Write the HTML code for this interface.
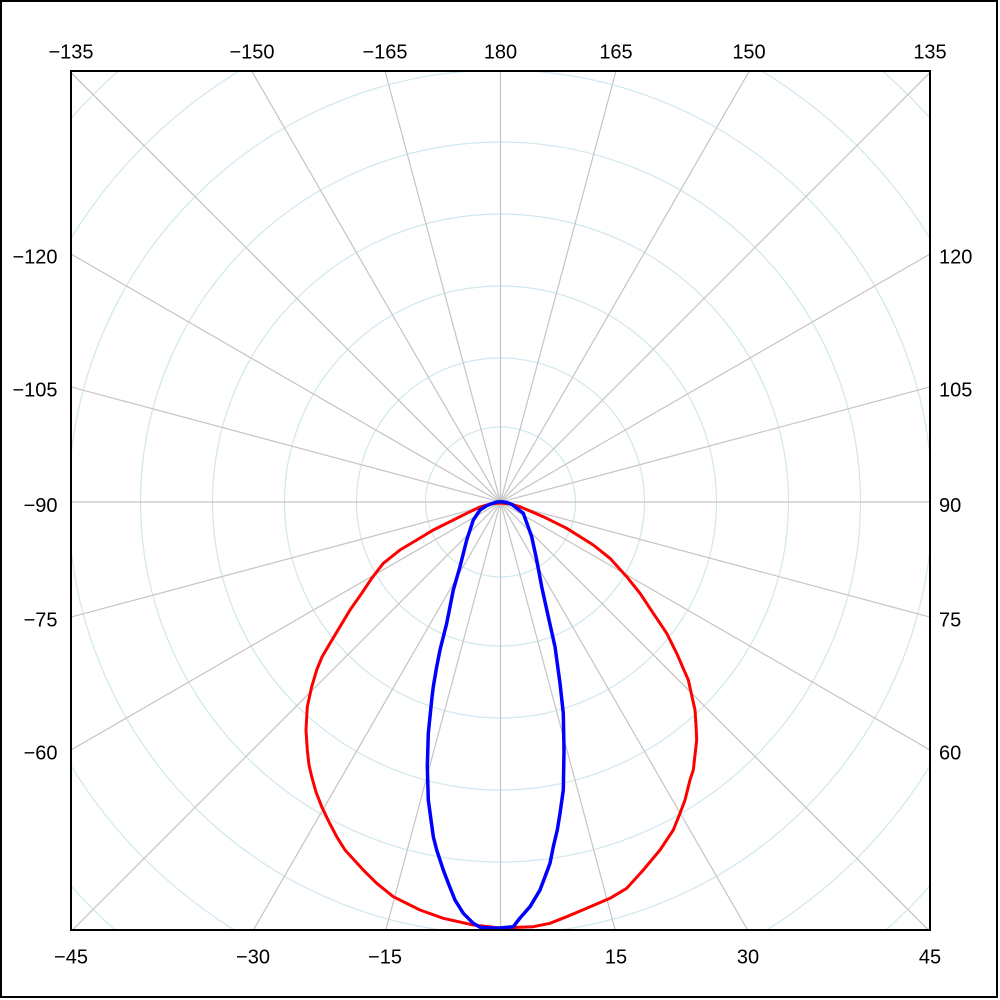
<!DOCTYPE html>
<html>
<head>
<meta charset="utf-8">
<style>
html,body{margin:0;padding:0;background:#fff;width:1000px;height:1000px;overflow:hidden;}
svg{display:block;}
text{font-family:"Liberation Sans",Arial,sans-serif;font-size:20px;fill:#000;}
</style>
</head>
<body>
<svg width="1000" height="1000" viewBox="0 0 1000 1000" xmlns="http://www.w3.org/2000/svg">
<defs>
<clipPath id="plot"><rect x="72" y="72" width="857" height="857"/></clipPath>
</defs>
<rect x="0" y="0" width="1000" height="1000" fill="#fff"/>
<rect x="1" y="1" width="996" height="996" fill="none" stroke="#000" stroke-width="2"/>

<g clip-path="url(#plot)" fill="none">
  <g stroke="#d0e7ef" stroke-width="1.2">
    <circle cx="500.5" cy="502" r="75"/>
    <circle cx="500.5" cy="502" r="144"/>
    <circle cx="500.5" cy="502" r="216"/>
    <circle cx="500.5" cy="502" r="288"/>
    <circle cx="500.5" cy="502" r="360"/>
    <circle cx="500.5" cy="502" r="432"/>
    <path d="M71,238.28 A504,504 0 0 1 239.24,71 M761.76,71 A504,504 0 0 1 930,238.28 M930,765.72 A504,504 0 0 1 766.64,930 M234.36,930 A504,504 0 0 1 71,765.72"/>
    <path d="M71,118.19 A576,576 0 0 1 118.38,71 M882.62,71 A576,576 0 0 1 930,118.19 M930,885.81 A576,576 0 0 1 885.98,930 M115.02,930 A576,576 0 0 1 71,885.81"/>
  </g>
  <g stroke="#c4c4c4" stroke-width="1.2">
    <line x1="500.5" y1="71" x2="500.5" y2="930"/>
    <line x1="71" y1="502" x2="930" y2="502"/>
    <line x1="615.18" y1="930" x2="385.01" y2="71"/>
    <line x1="385.82" y1="930" x2="615.99" y2="71"/>
    <line x1="747.6" y1="930" x2="251.65" y2="71"/>
    <line x1="253.4" y1="930" x2="749.35" y2="71"/>
    <line x1="928.5" y1="930" x2="71" y2="72.5"/>
    <line x1="72.5" y1="930" x2="930" y2="72.5"/>
    <line x1="930" y1="749.98" x2="71" y2="254.02"/>
    <line x1="71" y1="749.98" x2="930" y2="254.02"/>
    <line x1="930" y1="617.08" x2="71" y2="386.92"/>
    <line x1="71" y1="617.08" x2="930" y2="386.92"/>
  </g>
</g>

<polyline fill="none" stroke="#ff0000" stroke-width="3" stroke-linejoin="round" points="
500,503 490,504 480,507 466.7,513.3 450,521.7 433.3,530 416.7,540 400,550 383.3,563.3 371.7,578.3 361.7,593.3 350,610 340,626.7 330,643.3 322,657 316.7,670 311.7,686.7 307.3,706.7 306,730 307.3,750 309,765 311.7,776.7 316,792 321.7,806.7 329,822 336.7,836.7 345,850 363.3,870 376.7,883.3 393.3,896.7 420,910 443.3,918.3 473.3,925 500,928 533.3,926.7 550,923.3 566.7,916.7 586.7,908.3 610,898.3 626.7,888.3 643.3,870 660,850 673.3,830 680,813.3 685,800 690,780 693.3,770 696.7,740 696,725 695,710 688.3,680 676.7,653.3 666.7,633.3 653.3,613.3 640,593.3 626.7,576.7 610,558.3 593.3,545 566.7,528.3 543.3,516.7 520,506.7 510,504 500,503"/>

<polyline fill="none" stroke="#0000ff" stroke-width="3.5" stroke-linejoin="round" points="
500,501.5 495,502.5 487,505.5 480,510 473.3,520 466.7,540 460,566.7 453.3,590 446.7,623.3 440,650 436.7,666.7 433.3,686.7 431.7,700 428.3,733.3 427.3,766.7 428.3,800 433.3,836.7 436.7,850 443.3,870 448.3,883.3 455,900 463.3,913.3 473.3,923.3 480,927.3 490,928 500,928 513.3,926.7 520,918 530,906.7 540,890 545,876.7 550,863.3 553.3,846.7 557.3,830 560,813.3 563.3,790 564,750 563.3,713.3 560,683.3 555,646.7 548.3,616.7 541.7,586.7 536.7,560 531.7,536.7 523.3,513.3 512,504.5 506.7,502.5 500,501.5"/>

<rect x="71" y="71" width="859" height="859" fill="none" stroke="#000" stroke-width="2"/>

<g text-anchor="middle">
  <text x="71" y="58.5">−135</text>
  <text x="252" y="58.5">−150</text>
  <text x="385" y="58.5">−165</text>
  <text x="500.5" y="58.5">180</text>
  <text x="616" y="58.5">165</text>
  <text x="749" y="58.5">150</text>
  <text x="930" y="58.5">135</text>

  <text x="71" y="963.5">−45</text>
  <text x="253" y="963.5">−30</text>
  <text x="385" y="963.5">−15</text>
  <text x="616" y="963.5">15</text>
  <text x="748" y="963.5">30</text>
  <text x="930" y="963.5">45</text>
</g>
<g text-anchor="end">
  <text x="57.5" y="263.5">−120</text>
  <text x="57.5" y="396.5">−105</text>
  <text x="57.5" y="512">−90</text>
  <text x="57.5" y="626.5">−75</text>
  <text x="57.5" y="759.5">−60</text>
</g>
<g text-anchor="start">
  <text x="939" y="263.5">120</text>
  <text x="939" y="396.5">105</text>
  <text x="939" y="512">90</text>
  <text x="939" y="626.5">75</text>
  <text x="939" y="759.5">60</text>
</g>
</svg>
</body>
</html>
